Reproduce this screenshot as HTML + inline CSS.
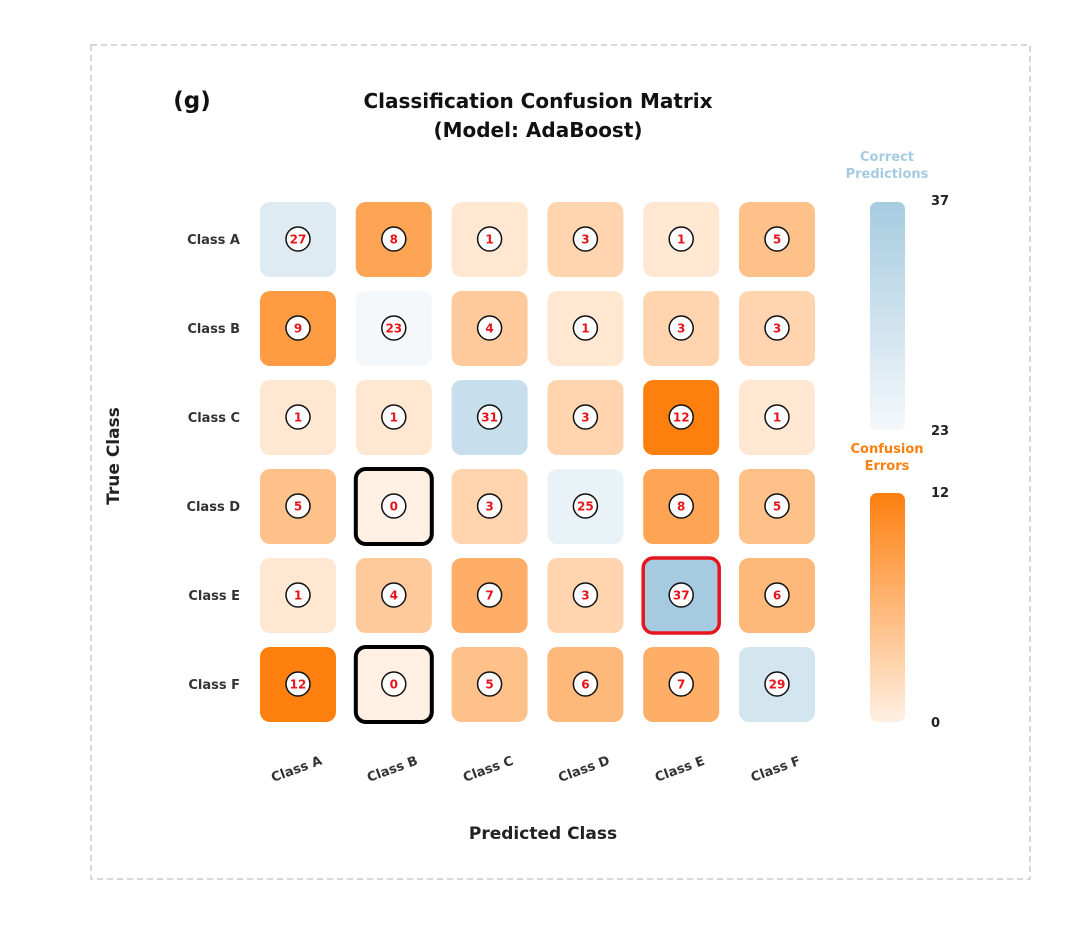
<!DOCTYPE html>
<html><head><meta charset="utf-8"><style>
body{margin:0;background:#fff;}
svg text{font-family:"Comic Sans MS","DejaVu Sans","Liberation Sans",sans-serif;font-weight:bold;}
</style></head><body>
<svg id="c" width="1080" height="925" xmlns="http://www.w3.org/2000/svg">
<defs>
<linearGradient id="gb" x1="0" y1="1" x2="0" y2="0"><stop offset="0" stop-color="#f4f8fb"/><stop offset="1" stop-color="#a6cbe0"/></linearGradient>
<linearGradient id="go" x1="0" y1="1" x2="0" y2="0"><stop offset="0" stop-color="#fff0e3"/><stop offset="1" stop-color="#fd7f0e"/></linearGradient>
</defs>
<rect x="91" y="45" width="939" height="834" fill="none" stroke="#ccc" stroke-width="1.5" stroke-dasharray="6,4"/>
<text x="192" y="108" font-size="23" text-anchor="middle" fill="#111">(g)</text>
<text x="538" y="108" font-size="20" text-anchor="middle" fill="#111">Classification Confusion Matrix</text>
<text x="538" y="137" font-size="20" text-anchor="middle" fill="#111">(Model: AdaBoost)</text>
<text x="543" y="839" font-size="17" text-anchor="middle" fill="#222">Predicted Class</text>
<text transform="translate(119,456) rotate(-90)" font-size="17" text-anchor="middle" fill="#222">True Class</text>
<g id="cells"></g>
<rect x="870" y="202" width="35" height="228" rx="7" fill="url(#gb)"/>
<rect x="870" y="493" width="35" height="229" rx="7" fill="url(#go)"/>
<text x="887" y="161" font-size="13" text-anchor="middle" fill="#a6cbe0">Correct</text>
<text x="887" y="178" font-size="13" text-anchor="middle" fill="#a6cbe0">Predictions</text>
<text x="887" y="453" font-size="13" text-anchor="middle" fill="#fd7f0e">Confusion</text>
<text x="887" y="470" font-size="13" text-anchor="middle" fill="#fd7f0e">Errors</text>
<text x="931" y="205" font-size="13" fill="#222">37</text>
<text x="931" y="435" font-size="13" fill="#222">23</text>
<text x="931" y="497" font-size="13" fill="#222">12</text>
<text x="931" y="727" font-size="13" fill="#222">0</text>
</svg>
<script>
const classes=["Class A","Class B","Class C","Class D","Class E","Class F"];
const values=[[27,8,1,3,1,5],[9,23,4,1,3,3],[1,1,31,3,12,1],[5,0,3,25,8,5],[1,4,7,3,37,6],[12,0,5,6,7,29]];
const ns="http://www.w3.org/2000/svg";
const g=document.getElementById('cells');
const colX=i=>298+i*95.8, rowY=i=>239+i*89;
function lerp(a,b,t){return a.map((v,k)=>Math.round(v+(b[k]-v)*t));}
function blue(v){const t=Math.max(0,Math.min(1,(v-23)/14));return 'rgb('+lerp([244,248,251],[166,203,224],t)+')';}
function orange(v){const t=Math.max(0,Math.min(1,v/12));return 'rgb('+lerp([255,240,227],[253,127,14],t)+')';}
function el(t,a){const e=document.createElementNS(ns,t);for(const k in a)e.setAttribute(k,a[k]);g.appendChild(e);return e;}
let maxV=Math.max(...values.map((r,i)=>r[i]));
classes.forEach((c,i)=>{
  const t=el('text',{x:240,y:rowY(i)+5,'font-size':13,'text-anchor':'end',fill:'#333'});t.textContent=c;
  
  
  const x=el('text',{transform:`translate(${colX(i)},${773}) rotate(-20)`,'font-size':13,'text-anchor':'middle',fill:'#333'});x.textContent=c;
  
  
});
values.forEach((row,r)=>row.forEach((v,c)=>{
  const cx=colX(c),cy=rowY(r);
  const diag=r===c;
  const fill=diag?blue(v):orange(v);
  let stroke='none',sw=0;
  if(v===0){stroke='#000';sw=4;}
  if(diag&&v===maxV){stroke='#e8141c';sw=3.5;}
  const rc=el('rect',{x:cx-38,y:cy-37,width:76,height:75,rx:10,fill:fill,stroke:stroke,'stroke-width':sw});
  
  
  const ci=el('circle',{cx:cx,cy:cy,r:12,fill:'#fff',stroke:'#111','stroke-width':1.5});
  
  
  const tx=el('text',{x:cx,y:cy+4.5,'font-size':12,'text-anchor':'middle',fill:'#e8141c'});tx.textContent=v;
  
  
}));
</script>
</body></html>
